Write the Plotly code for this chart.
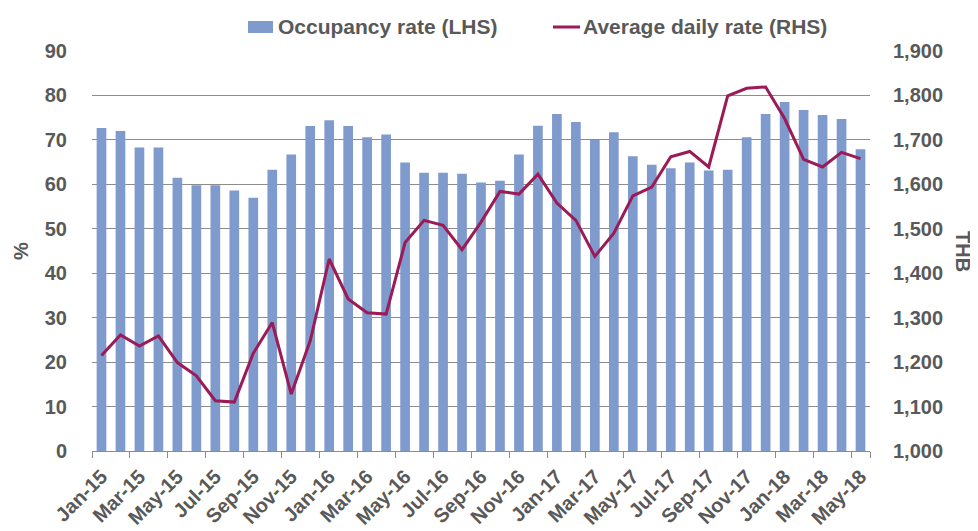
import plotly.graph_objects as go

months = ["Jan-15","Feb-15","Mar-15","Apr-15","May-15","Jun-15","Jul-15","Aug-15","Sep-15","Oct-15","Nov-15","Dec-15",
          "Jan-16","Feb-16","Mar-16","Apr-16","May-16","Jun-16","Jul-16","Aug-16","Sep-16","Oct-16","Nov-16","Dec-16",
          "Jan-17","Feb-17","Mar-17","Apr-17","May-17","Jun-17","Jul-17","Aug-17","Sep-17","Oct-17","Nov-17","Dec-17",
          "Jan-18","Feb-18","Mar-18","Apr-18","May-18"]

occupancy = [72.7, 72.0, 68.3, 68.3, 61.5, 59.8, 59.8, 58.6, 57.0, 63.3, 66.7, 73.1,
             74.4, 73.1, 70.6, 71.2, 64.9, 62.6, 62.6, 62.4, 60.4, 60.8, 66.7, 73.2,
             75.8, 74.0, 70.0, 71.7, 66.3, 64.4, 63.6, 64.9, 63.1, 63.3, 70.6, 75.8,
             78.5, 76.7, 75.6, 74.7, 67.9]

adr = [1215, 1261, 1236, 1259, 1199, 1169, 1113, 1110, 1220, 1289, 1128, 1248,
       1432, 1342, 1311, 1308, 1469, 1519, 1508, 1453, 1515, 1584, 1578, 1623,
       1558, 1519, 1438, 1490, 1574, 1594, 1662, 1674, 1639, 1799, 1816, 1819,
       1748, 1656, 1639, 1672, 1658]

tick_labels = months[::2]
series_names = ["Occupancy rate (LHS)", "Average daily rate (RHS)"]

TXT = "#595959"
BAR_C = "#7F9ACC"
LINE_C = "#9A1B55"
FONT = dict(family="Arial, Liberation Sans, sans-serif", size=20, color=TXT, weight="bold")
LFONT = dict(FONT, size=21)

# page body has an 8px margin; plot area on screen spans 92..870 x 51..451
OFF = 8
def px(x):
    return (x - 92) / 778.0
def py(y):
    return (451 - y) / 400.0

fig = go.Figure()
fig.add_trace(go.Bar(x=months, y=occupancy, name=series_names[0],
                     marker=dict(color=BAR_C, line=dict(width=0)), yaxis="y"))
fig.add_trace(go.Scatter(x=months, y=adr, name=series_names[1], mode="lines",
                         line=dict(color=LINE_C, width=3), yaxis="y2"))

shapes = [
    dict(type="rect", xref="paper", yref="paper", x0=px(248), x1=px(273), y0=py(33), y1=py(21),
         fillcolor=BAR_C, line=dict(width=0)),
    dict(type="line", xref="paper", yref="paper", x0=px(553), x1=px(580), y0=py(27), y1=py(27),
         line=dict(color=LINE_C, width=3)),
]
annotations = [
    dict(text=series_names[0], xref="paper", yref="paper", x=px(276), y=py(27), xanchor="left",
         yanchor="middle", showarrow=False, font=LFONT),
    dict(text=series_names[1], xref="paper", yref="paper", x=px(581), y=py(27), xanchor="left",
         yanchor="middle", showarrow=False, font=LFONT),
    dict(text="THB", xref="paper", yref="paper", x=px(963), y=0.5,
         showarrow=False, textangle=90, font=FONT, xanchor="center", yanchor="middle"),
]

fig.update_layout(
    width=978 - OFF, height=531 - OFF,
    margin=dict(l=92 - OFF, r=978 - 870, t=51 - OFF, b=531 - 451, autoexpand=False),
    paper_bgcolor="white", plot_bgcolor="white",
    font=FONT,
    bargap=0.49,
    showlegend=False,
    shapes=shapes,
    annotations=annotations,
    xaxis=dict(type="category", categoryorder="array", categoryarray=months,
               tickmode="array", tickvals=tick_labels, ticktext=tick_labels,
               tickangle=-45, tickson="boundaries", ticks="outside", ticklen=6, tickcolor="#8c8c8c",
               showline=True, linecolor="#8c8c8c", linewidth=1, showgrid=False,
               tickfont=FONT, ticklabelstandoff=5, range=[-0.5, 40.5]),
    yaxis=dict(range=[0, 90], dtick=10, showgrid=True, gridcolor="#8c8c8c", gridwidth=1,
               zeroline=False, showline=False, ticks="", tickfont=FONT, ticklabelstandoff=24,
               title=dict(text="%", font=FONT, standoff=10)),
    yaxis2=dict(range=[1000, 1900], dtick=100, overlaying="y", side="right", showgrid=False,
                zeroline=False, showline=False, ticks="", tickformat=",d", tickfont=FONT,
                ticklabelstandoff=22),
)

fig.write_html("out.html")
